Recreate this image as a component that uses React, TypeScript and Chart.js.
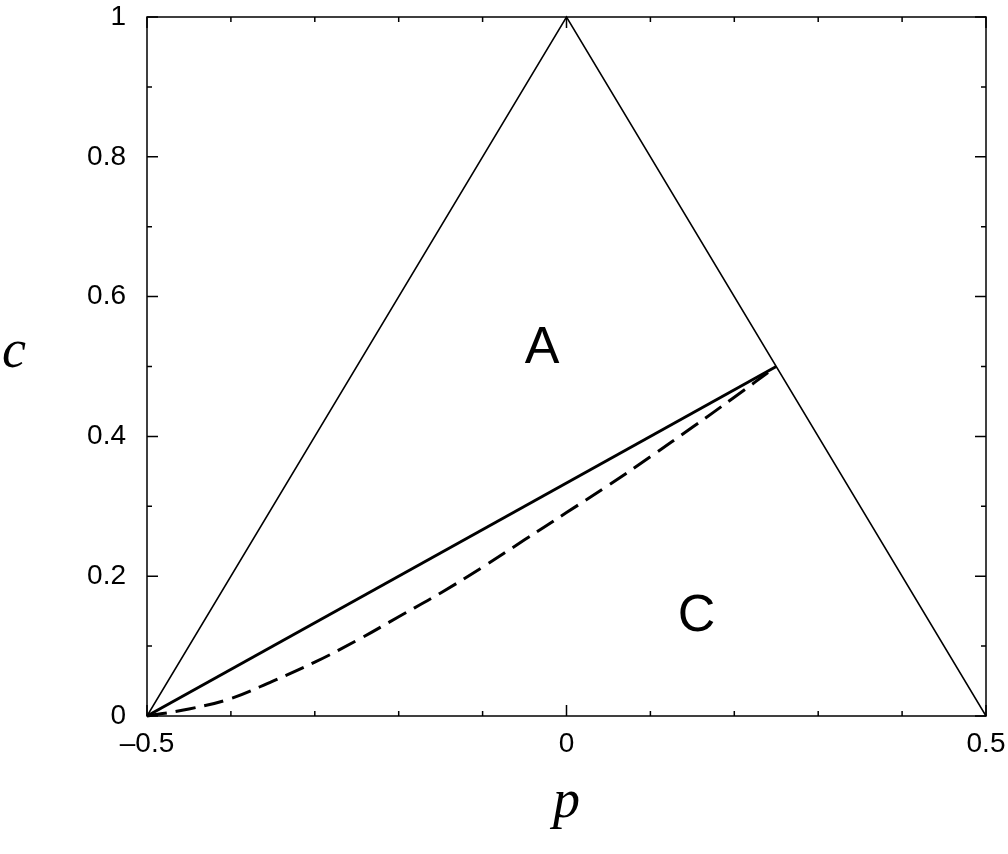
import { useEffect, useRef } from "react";
import { Chart, registerables } from "chart.js";

Chart.register(...registerables);

// outer triangle
const triangleP = [-0.5, 0, 0.5];
const triangleC = [0, 1, 0];
// solid boundary between A and C
const boundaryP = [-0.5, 0.25];
const boundaryC = [0, 0.5];
// dashed curve
const dashedP = [-0.5, -0.45, -0.4, -0.35, -0.3, -0.25, -0.2, -0.15, -0.1, -0.05, 0, 0.05, 0.1, 0.15, 0.2, 0.25];
const dashedC = [0, 0.01, 0.025, 0.05, 0.077, 0.108, 0.142, 0.176, 0.213, 0.252, 0.291, 0.33, 0.371, 0.413, 0.456, 0.5];

const xMajor = [-0.5, 0, 0.5];
const xTickLabels = ["\u20130.5", "0", "0.5"];
const xMinor = [-0.5, -0.4, -0.3, -0.2, -0.1, 0, 0.1, 0.2, 0.3, 0.4, 0.5];
const yMajor = [0, 0.2, 0.4, 0.6, 0.8, 1];
const yTickLabels = ["0", "0.2", "0.4", "0.6", "0.8", "1"];
const yMinor = [0, 0.1, 0.2, 0.3, 0.4, 0.5, 0.6, 0.7, 0.8, 0.9, 1];

const regionLabels = ["A", "C"];
const regionP = [-0.029, 0.155];
const regionC = [0.505, 0.121];

const sans = "'Liberation Sans', Arial, sans-serif";
const serif = "'Liberation Serif', 'Times New Roman', serif";

const pts = (xs: number[], ys: number[]) => xs.map((x, i) => ({ x, y: ys[i] }));

const framePlugin = {
  id: "frame",
  afterDraw(chart: any) {
    const { ctx, chartArea: a, scales } = chart;
    const xs = scales.x;
    const ys = scales.y;
    ctx.save();
    ctx.strokeStyle = "#000";
    ctx.lineWidth = 1.5;
    ctx.strokeRect(a.left, a.top, a.right - a.left, a.bottom - a.top);
    ctx.beginPath();
    xMinor.forEach((v) => {
      const px = xs.getPixelForValue(v);
      const len = xMajor.includes(v) ? 11 : 5;
      ctx.moveTo(px, a.bottom);
      ctx.lineTo(px, a.bottom - len);
      ctx.moveTo(px, a.top);
      ctx.lineTo(px, a.top + len);
    });
    yMinor.forEach((v) => {
      const py = ys.getPixelForValue(v);
      const len = yMajor.includes(v) ? 11 : 5;
      ctx.moveTo(a.left, py);
      ctx.lineTo(a.left + len, py);
      ctx.moveTo(a.right, py);
      ctx.lineTo(a.right - len, py);
    });
    ctx.stroke();

    ctx.fillStyle = "#000";
    ctx.textAlign = "center";
    ctx.textBaseline = "alphabetic";
    ctx.font = `52px ${sans}`;
    regionLabels.forEach((t, i) => {
      ctx.fillText(t, xs.getPixelForValue(regionP[i]), ys.getPixelForValue(regionC[i]));
    });

    ctx.font = `italic 54px ${serif}`;
    ctx.fillText("c", 14, 367);
    ctx.fillText("p", (a.left + a.right) / 2, 817);
    ctx.restore();
  },
};

const App = () => {
  const chartRef = useRef<HTMLCanvasElement | null>(null);

  useEffect(() => {
    if (!chartRef.current) return;
    const ctx = chartRef.current.getContext("2d");
    if (!ctx) return;

    const chart = new Chart(ctx, {
      type: "scatter",
      data: {
        datasets: [
          {
            data: pts(triangleP, triangleC),
            showLine: true,
            borderColor: "#000",
            borderWidth: 1.5,
            pointRadius: 0,
            clip: 4,
          },
          {
            data: pts(boundaryP, boundaryC),
            showLine: true,
            borderColor: "#000",
            borderWidth: 3,
            pointRadius: 0,
            clip: 4,
          },
          {
            data: pts(dashedP, dashedC),
            showLine: true,
            borderColor: "#000",
            borderWidth: 3,
            borderDash: [20, 9],
            tension: 0.4,
            pointRadius: 0,
            clip: 4,
          },
        ],
      },
      options: {
        animation: false,
        responsive: true,
        maintainAspectRatio: false,
        layout: { padding: { top: 17, right: 22, left: 0, bottom: 0 } },
        plugins: {
          legend: { display: false },
          tooltip: { enabled: false },
        },
        scales: {
          x: {
            type: "linear",
            min: -0.5,
            max: 0.5,
            grid: { display: false, drawTicks: false },
            border: { display: false },
            afterBuildTicks: (s: any) => {
              s.ticks = xMajor.map((v) => ({ value: v }));
            },
            afterFit: (s: any) => {
              s.height = 138;
              s.paddingLeft = 0;
              s.paddingRight = 0;
            },
            ticks: {
              padding: 11,
              color: "#000",
              font: { family: sans, size: 28 },
              maxRotation: 0,
              callback: (v: any) => xTickLabels[xMajor.indexOf(Number(v))] ?? "",
            },
          },
          y: {
            type: "linear",
            min: 0,
            max: 1,
            grid: { display: false, drawTicks: false },
            border: { display: false },
            afterBuildTicks: (s: any) => {
              s.ticks = yMajor.map((v) => ({ value: v }));
            },
            afterFit: (s: any) => {
              s.width = 147;
              s.paddingTop = 0;
              s.paddingBottom = 0;
            },
            ticks: {
              padding: 21,
              color: "#000",
              font: { family: sans, size: 28 },
              callback: (v: any) => yTickLabels[yMajor.indexOf(Number(v))] ?? "",
            },
          },
        },
      },
      plugins: [framePlugin],
    });

    return () => {
      chart.destroy();
    };
  }, []);

  return (
    <div
      style={{
        position: "absolute",
        left: 0,
        top: 0,
        width: "1008px",
        height: "854px",
        background: "#fff",
      }}
    >
      <canvas ref={chartRef} />
    </div>
  );
};

export default App;
